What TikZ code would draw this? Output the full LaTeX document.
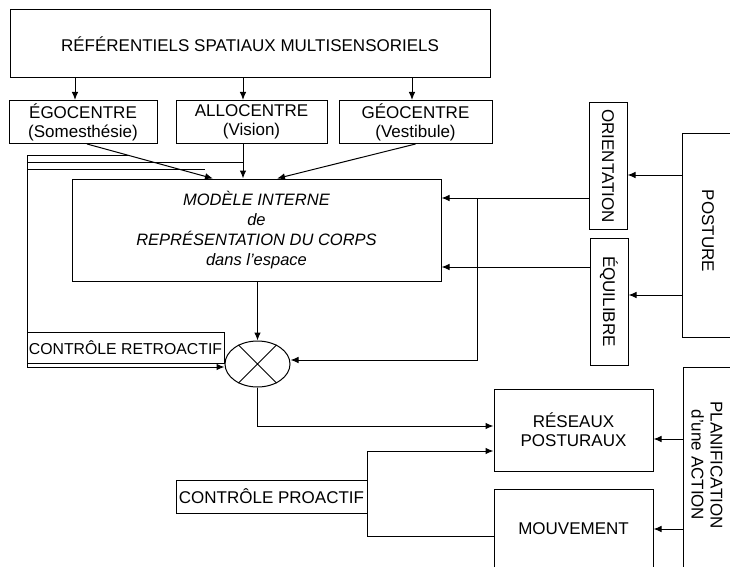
\documentclass[tikz,border=0pt]{standalone}
\usepackage{fontspec}
\setmainfont{Liberation Sans}
\usetikzlibrary{shapes.geometric,arrows.meta}

\begin{document}
\begin{tikzpicture}[x=1pt,y=-1pt,line width=1pt,>={Latex[length=8pt,width=6.5pt]}]
    \tikzstyle{box}=[draw=black,rectangle,inner sep=0pt,align=center,font=\fontsize{17}{19}\selectfont]
    \tikzstyle{lbl}=[inner sep=0pt,align=center,font=\fontsize{17}{19}\selectfont]
    \useasboundingbox (0,0) rectangle (730,567);

    % referentiels
    \node[box,minimum width=480,minimum height=68] (ref) at (250,44) {RÉFÉRENTIELS SPATIAUX MULTISENSORIELS};
    \foreach \name/\x/\w/\txt in {ego/83/148/{ÉGOCENTRE\\(Somesthésie)}, allo/251.5/151/{ALLOCENTRE\\(Vision)}, geo/415.5/153/{GÉOCENTRE\\(Vestibule)}}
        \node[box,minimum width=\w,minimum height=43] (\name) at (\x,122) {\txt};
    \foreach \name/\s in {ego/-8, allo/-8.5, geo/-3.5}
        \draw[->] ([xshift=\s pt]\name.north |- ref.south) -- ([xshift=\s pt]\name.north);

    % modele interne
    \node[box,minimum width=369,minimum height=102,font=\fontsize{16.5}{20}\selectfont\itshape] (model) at (256.5,230)
        {MODÈLE INTERNE\\de\\REPRÉSENTATION DU CORPS\\dans l'espace};
    \coordinate (inA) at ([xshift=-43.5pt]model.north);
    \coordinate (inB) at ([xshift=-13.5pt]model.north);
    \coordinate (inC) at ([xshift=20.5pt]model.north);
    \draw[->] ([xshift=4pt]ego.south) -- (inA);
    \draw[->] (allo.south -| inB) -- (inB);
    \draw[->] (geo.south) -- (inC);

    % comparateur
    \node[draw,ellipse,minimum width=65,minimum height=46,inner sep=0pt] (cmp) at (257.5,364) {};
    \draw (cmp.45) -- (cmp.225) (cmp.135) -- (cmp.315);
    \draw[->] (model.south -| cmp.north) -- (cmp.north);

    % controle retroactif
    \node[box,minimum width=197,minimum height=31,font=\fontsize{15.8}{18}\selectfont] (retro) at (125.5,347.5) {CONTRÔLE RETROACTIF};
    \coordinate (fbA) at (27,155);
    \coordinate (fbB) at (27,162);
    \coordinate (fbC) at (27,169);
    \draw[->] (fbA) |- ([yshift=-3pt]cmp.west);
    \draw (fbA) -- (129,155);
    \draw (fbB) -- (fbB -| inB);
    \draw (fbC) -- (205,169);

    % orientation, equilibre, posture
    \node[box,minimum width=38,minimum height=126] (ori) at (608,166) {\rotatebox{-90}{ORIENTATION}};
    \node[box,minimum width=38,minimum height=127] (equ) at (609,301.5) {\rotatebox{-90}{ÉQUILIBRE}};
    \draw (730,133) -| (682,337) -- (730,337);
    \node[lbl,rotate=-90] (posture) at (708,231) {POSTURE};
    \coordinate (postL) at (682,235);
    \draw[->] ([yshift=-9pt]ori.east -| postL) -- ([yshift=-9pt]ori.east);
    \draw[->] ([yshift=6.5pt]equ.east -| postL) -- ([yshift=6.5pt]equ.east);

    \coordinate (oriOut) at ([yshift=-32pt]ori.west);
    \coordinate (equOut) at ([yshift=34.5pt]equ.west);
    \draw[->] (oriOut) -- (oriOut -| model.east);
    \draw[->] (equOut) -- (equOut -| model.east);
    \coordinate (jn) at (477,198);
    \draw[->] (jn) |- ([yshift=4pt]cmp.east);

    % reseaux, mouvement, planification
    \node[box,minimum width=159,minimum height=82] (res) at (573.5,430) {RÉSEAUX\\POSTURAUX};
    \draw (494,567) |- (653,489) -- (653,567);
    \node[lbl,minimum width=159] (mouv) at (573.5,529) {MOUVEMENT};
    \draw (730,367) -| (683,567);
    \node[lbl,rotate=-90] (plan) at (707,465) {PLANIFICATION\\d'une ACTION};
    \coordinate (planL) at (683,465);
    \draw[->] ([yshift=-9pt]res.east -| planL) -- ([yshift=-9pt]res.east);
    \draw[->] (mouv.east -| planL) -- (mouv.east);

    % controle proactif
    \node[box,minimum width=191,minimum height=33] (pro) at (271.5,496.5) {CONTRÔLE PROACTIF};
    \draw[->] (cmp.south) |- ([yshift=4pt]res.west);
    \draw[->] (pro.east) |- ([yshift=-21pt]res.west);
    \draw (pro.east) |- ([yshift=-7pt]mouv.west);
\end{tikzpicture}
\end{document}
